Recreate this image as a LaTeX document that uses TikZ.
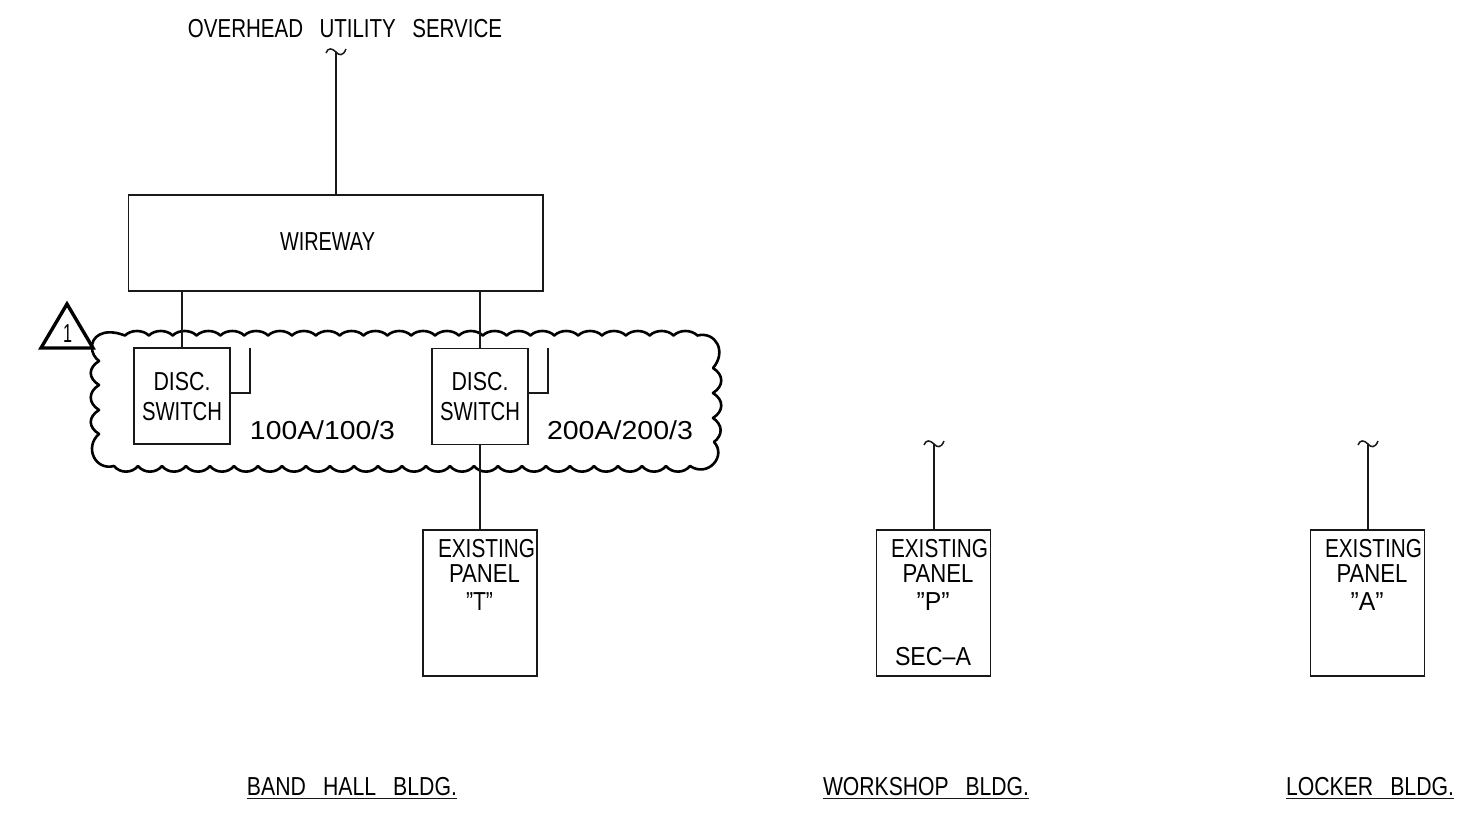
\documentclass[tikz,border=0pt]{standalone}
\usepackage{fontspec}
\setmainfont{Liberation Sans}
\newcommand{\fitw}[2]{\resizebox{#1pt}{\height}{#2}}
\newcommand{\wsp}{\hspace{0.8em}}
\tikzset{
  wire/.style={line width=1.5pt,line cap=butt,line join=miter,color=black!90},
  boxnode/.style={draw,line width=1.5pt,color=black!90,inner sep=0pt,outer sep=0pt,rectangle},
  swbox/.style={boxnode,minimum width=96pt,minimum height=96pt},
  panelbox/.style={boxnode,minimum width=114pt,minimum height=146pt},
  lbl/.style={inner sep=0pt,outer sep=0pt,text=black,text height=18.5pt,text depth=0pt,font=\fontsize{26pt}{26pt}\selectfont},
  cloudline/.style={line width=2.6pt,line join=round,line cap=round,color=black},
  tickmark/.style={line width=1.5pt,color=black!90},
  ul/.style={line width=1.5pt,color=black!90}
}
\begin{document}
\begin{tikzpicture}[x=1pt,y=-1pt]
\useasboundingbox (0,0) rectangle (1460,813);

% revision cloud
\draw[cloudline] (92,348)
  .. controls (91,337) and (103,327) .. (125,335.5)
  \foreach \k in {0,...,23} {
    \pgfextra{\pgfmathsetmacro{\xa}{125+23.85*\k}\pgfmathsetmacro{\xb}{\xa+6}\pgfmathsetmacro{\xc}{\xa+17.85}\pgfmathsetmacro{\xd}{\xa+23.85}}
    .. controls (\xb,329.5) and (\xc,329.5) .. (\xd,335.5)
  }
  .. controls (716,331) and (727,352) .. (713,368)
  .. controls (724,375) and (724,386) .. (713,393)
  .. controls (724,400) and (724,411) .. (713,418)
  .. controls (723,425) and (723,435) .. (714,442)
  .. controls (727,456) and (708,478) .. (690,466)
  \foreach \k in {23,22,...,0} {
    \pgfextra{\pgfmathsetmacro{\xa}{114+24*\k+24}\pgfmathsetmacro{\xb}{\xa-6}\pgfmathsetmacro{\xc}{\xa-18}\pgfmathsetmacro{\xd}{\xa-24}}
    .. controls (\xb,473.5) and (\xc,473.5) .. (\xd,466)
  }
  .. controls (95,471) and (84,447) .. (99,434)
  .. controls (88,427) and (88,417) .. (99,410)
  .. controls (88,403) and (88,392) .. (99,385)
  .. controls (88,378) and (88,368) .. (99,361)
  .. controls (95,358) and (92,353) .. (92,348);

% boxes
\node[boxnode,minimum width=414.5pt,minimum height=96pt] (wireway) at (335.75,243) {};
\node[swbox] (sw1) at (182,396) {};
\node[swbox] (sw2) at (480,396.5) {};
\node[panelbox] (panelT) at (480,603) {};
\node[panelbox] (panelP) at (933.5,603) {};
\node[panelbox] (panelA) at (1367.5,603) {};

% free ends
\coordinate (svc) at (336,52);
\coordinate (feedP) at (934,444);
\coordinate (feedA) at (1368,444);
\coordinate (hook1) at (250,348);
\coordinate (hook2) at (548,348);

% connectors
\draw[wire] (svc) -- (svc |- wireway.north);
\draw[wire] (wireway.south -| sw1.north) -- (sw1.north);
\draw[wire] (wireway.south -| sw2.north) -- (sw2.north);
\draw[wire] (sw2.south) -- (panelT.north);
\draw[wire] (feedP) -- (feedP |- panelP.north);
\draw[wire] (feedA) -- (feedA |- panelA.north);
\draw[wire] (sw1.east) ++(0,-3) -- (hook1 |- 0,393) -- (hook1);
\draw[wire] (sw2.east) ++(0,-3.5) -- (hook2 |- 0,393) -- (hook2);

% break marks
\foreach \brk in {svc,feedP,feedA} {
  \begin{scope}[shift={(\brk)}]
    \draw[tickmark] (-10,1) .. controls (-8,-4.5) and (-4,-4) .. (0,0)
      .. controls (3,3.5) and (7,4.5) .. (10,-3);
  \end{scope}
}

% revision triangle
\node[lbl] (revnum) at (67.5,333) {\fitw{9}{1}};
\draw[line width=3.4pt,line join=miter,color=black] (67,304) -- (93,348) -- (41,348) -- cycle;

% labels
\node[lbl] (tservice) at (345,28) {\fitw{314}{OVERHEAD\wsp UTILITY\wsp SERVICE}};
\node[lbl] (twire) at (327.5,241) {\fitw{95}{WIREWAY}};
\node[lbl] (tdisc1) at (182,381) {\fitw{57}{DISC.}};
\node[lbl] (tswitch1) at (182,411) {\fitw{80}{SWITCH}};
\node[lbl] (tdisc2) at (480,381) {\fitw{57}{DISC.}};
\node[lbl] (tswitch2) at (480,411) {\fitw{80}{SWITCH}};
\node[lbl] (trate1) at (322.5,430) {\fitw{145}{100A/100/3}};
\node[lbl] (trate2) at (620,430) {\fitw{146}{200A/200/3}};

\node[lbl] (tex1) at (486.5,548) {\fitw{97}{EXISTING}};
\node[lbl] (tpa1) at (484.5,573) {\fitw{71}{PANEL}};
\node[lbl] (tq1) at (479.5,601) {\fitw{27}{"T"}};
\node[lbl] (tex2) at (939.5,548) {\fitw{97}{EXISTING}};
\node[lbl] (tpa2) at (938,573) {\fitw{71}{PANEL}};
\node[lbl] (tq2) at (933,601) {\fitw{33}{"P"}};
\node[lbl] (tsec) at (933,656) {\fitw{76}{SEC--A}};
\node[lbl] (tex3) at (1373.5,548) {\fitw{97}{EXISTING}};
\node[lbl] (tpa3) at (1372,573) {\fitw{71}{PANEL}};
\node[lbl] (tq3) at (1367,601) {\fitw{33}{"A"}};

\node[lbl] (tband) at (352,786) {\fitw{210}{BAND\wsp HALL\wsp BLDG.}};
\node[lbl] (twork) at (926,786) {\fitw{206}{WORKSHOP\wsp BLDG.}};
\node[lbl] (tlock) at (1370,786) {\fitw{168}{LOCKER\wsp BLDG.}};
\draw[ul] ([yshift=-3pt]tband.south west) -- ([yshift=-3pt]tband.south east);
\draw[ul] ([yshift=-3pt]twork.south west) -- ([yshift=-3pt]twork.south east);
\draw[ul] ([yshift=-3pt]tlock.south west) -- ([yshift=-3pt]tlock.south east);
\end{tikzpicture}
\end{document}
